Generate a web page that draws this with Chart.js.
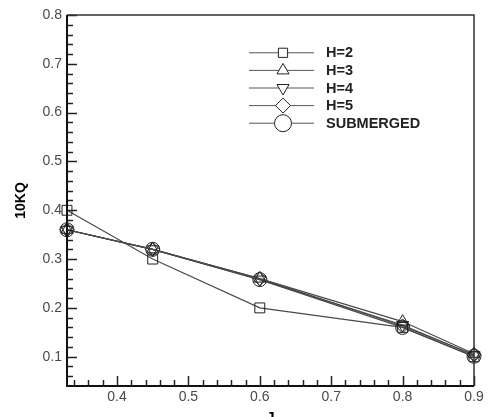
<!DOCTYPE html>
<html><head><meta charset="utf-8">
<script src="https://cdn.jsdelivr.net/npm/chart.js@4.4.0/dist/chart.umd.min.js"></script>
<style>html,body{margin:0;padding:0;background:#fff;overflow:hidden}#wrap{width:489px;height:417px}</style>
</head><body><div id="wrap"><canvas id="c" width="489" height="417"></canvas></div>
<script>
const jValues = [0.33, 0.45, 0.6, 0.8, 0.9];
const seriesNames = ['H=2', 'H=3', 'H=4', 'H=5', 'SUBMERGED'];
const kqH2 = [0.40, 0.30, 0.20, 0.16, 0.10];
const kqH3 = [0.36, 0.32, 0.26, 0.172, 0.106];
const kqH4 = [0.36, 0.32, 0.258, 0.165, 0.103];
const kqH5 = [0.36, 0.32, 0.26, 0.163, 0.104];
const kqSub = [0.36, 0.32, 0.258, 0.16, 0.101];
const xTicks = [0.4, 0.5, 0.6, 0.7, 0.8, 0.9];
const yTicks = [0.1, 0.2, 0.3, 0.4, 0.5, 0.6, 0.7, 0.8];
const xTitle = 'J';
const yTitle = '10KQ';

const seriesValues = [kqH2, kqH3, kqH4, kqH5, kqSub];
const styles = [
  {pointStyle: 'rect', rotation: 0, radius: 7, legendRadius: 6.5},
  {pointStyle: 'triangle', rotation: 0, radius: 7, legendRadius: 7},
  {pointStyle: 'triangle', rotation: 180, radius: 7, legendRadius: 7},
  {pointStyle: 'rectRot', rotation: 0, radius: 7, legendRadius: 7.5},
  {pointStyle: 'circle', rotation: 0, radius: 7, legendRadius: 8.5}
];

const datasets = seriesNames.map((name, i) => ({
  label: name,
  data: jValues.map((x, k) => ({x: x, y: seriesValues[i][k]})),
  borderColor: '#4a4a4a',
  borderWidth: 1.2,
  pointStyle: styles[i].pointStyle,
  pointRotation: styles[i].rotation,
  pointRadius: styles[i].radius,
  pointBorderColor: '#222',
  pointBorderWidth: 1,
  pointBackgroundColor: 'rgba(0,0,0,0)',
  tension: 0,
  fill: false,
  clip: false
}));

const fontFam = '"Liberation Sans", Arial, sans-serif';

const framePlugin = {
  id: 'frameTicks',
  afterDatasetsDraw(chart) {
    const {ctx, chartArea: a, scales} = chart;
    const xs = scales.x, ys = scales.y;
    ctx.save();
    ctx.strokeStyle = '#222';
    ctx.lineWidth = 1.5;
    for (let v = 0.34; v < xs.max + 1e-9; v += 0.02) {
      const px = Math.round(xs.getPixelForValue(v)) + 0.5;
      const major = xTicks.some(t => Math.abs(t - v) < 1e-6);
      ctx.beginPath(); ctx.moveTo(px, a.bottom); ctx.lineTo(px, a.bottom - (major ? 10 : 6)); ctx.stroke();
    }
    for (let v = 0.06; v < ys.max + 1e-9; v += 0.02) {
      const py = Math.round(ys.getPixelForValue(v)) + 0.5;
      const major = yTicks.some(t => Math.abs(t - v) < 1e-6);
      ctx.beginPath(); ctx.moveTo(a.left, py); ctx.lineTo(a.left + (major ? 10 : 6), py); ctx.stroke();
    }
    ctx.strokeStyle = '#333';
    ctx.lineWidth = 1.5;
    ctx.beginPath(); ctx.moveTo(a.left, a.top); ctx.lineTo(a.right, a.top); ctx.lineTo(a.right, a.bottom); ctx.stroke();
    ctx.strokeStyle = '#111';
    ctx.lineWidth = 2;
    ctx.beginPath(); ctx.moveTo(a.left, a.top); ctx.lineTo(a.left, a.bottom); ctx.lineTo(a.right, a.bottom); ctx.stroke();
    ctx.restore();
  },
  afterDraw(chart) {
    const {ctx, chartArea: a} = chart;
    const x0 = a.left + 182, x1 = a.left + 247, xm = a.left + 216, xt = a.left + 259;
    ctx.save();
    chart.data.datasets.forEach((ds, i) => {
      const y = a.top + 37.3 + i * 17.6;
      ctx.strokeStyle = '#555'; ctx.lineWidth = 1;
      ctx.beginPath(); ctx.moveTo(x0, y + 0.5); ctx.lineTo(x1, y + 0.5); ctx.stroke();
      ctx.strokeStyle = '#222'; ctx.fillStyle = '#fff'; ctx.lineWidth = 1;
      Chart.helpers.drawPoint(ctx, {pointStyle: styles[i].pointStyle, rotation: styles[i].rotation, radius: styles[i].legendRadius, borderWidth: 1}, xm, y + 0.5);
      ctx.fillStyle = '#222';
      ctx.font = 'bold 14.5px ' + fontFam;
      ctx.textBaseline = 'middle'; ctx.textAlign = 'left';
      ctx.fillText(ds.label, xt, y + 1);
    });
    ctx.restore();
  }
};

new Chart(document.getElementById('c'), {
  type: 'line',
  data: {datasets: datasets},
  options: {
    responsive: false,
    devicePixelRatio: 1,
    animation: false,
    events: [],
    layout: {padding: {top: 15, right: 15, left: 0, bottom: 0}},
    plugins: {legend: {display: false}, tooltip: {enabled: false}},
    scales: {
      x: {
        type: 'linear', min: 0.33, max: 0.9,
        afterBuildTicks: s => { s.ticks = xTicks.map(v => ({value: v})); },
        afterFit: s => { s.height = 31; },
        grid: {display: false, drawTicks: false},
        border: {display: false},
        ticks: {color: '#4a4a4a', font: {family: fontFam, size: 14}, padding: 3, maxRotation: 0, autoSkip: false, callback: v => v.toFixed(1)},
        title: {display: true, text: xTitle, color: '#000', font: {family: fontFam, size: 15, weight: 'bold', lineHeight: 1.2}, padding: {top: 0, bottom: -9.5}}
      },
      y: {
        type: 'linear', min: 0.04, max: 0.8,
        afterBuildTicks: s => { s.ticks = yTicks.map(v => ({value: v})); },
        afterFit: s => { s.width = 67; },
        grid: {display: false, drawTicks: false},
        border: {display: false},
        ticks: {color: '#4a4a4a', font: {family: fontFam, size: 14}, padding: 5, autoSkip: false, callback: v => v.toFixed(1)},
        title: {display: true, text: yTitle, color: '#000', font: {family: fontFam, size: 14, weight: 'bold', lineHeight: 1.2}, padding: {top: 13, bottom: 0}}
      }
    }
  },
  plugins: [framePlugin]
});
</script>
</body></html>
